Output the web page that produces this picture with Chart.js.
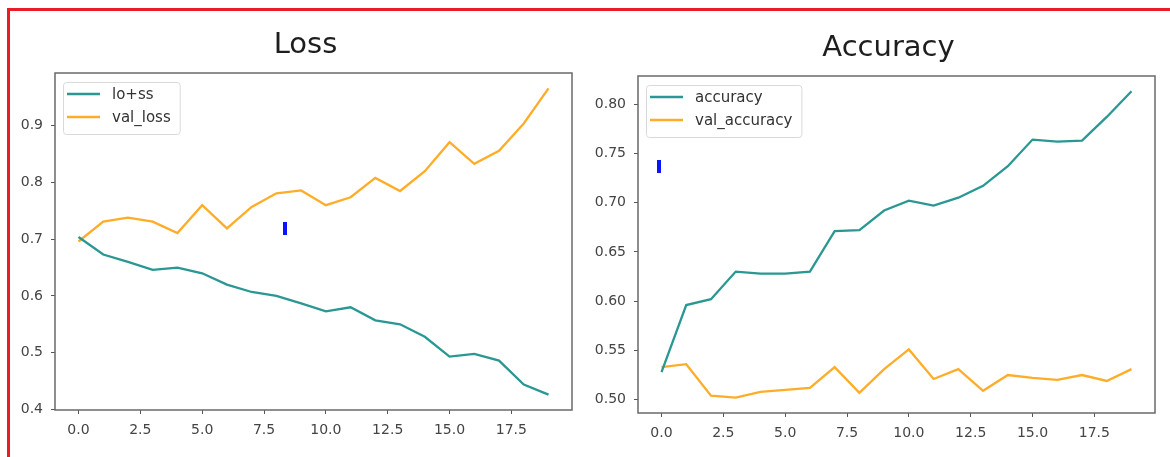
<!DOCTYPE html>
<html>
<head>
<meta charset="utf-8">
<title>Loss / Accuracy</title>
<script src="https://cdn.jsdelivr.net/npm/chart.js@4.4.1/dist/chart.umd.min.js"></script>
<style>
  html, body { margin: 0; padding: 0; background: #fff; }
  body { width: 1170px; height: 457px; position: relative; overflow: hidden; font-family: "DejaVu Sans", sans-serif; }
  .frame { position: absolute; left: 7px; top: 8px; right: 0; bottom: -10px; border-top: 3px solid #ec1c24; border-left: 3px solid #ec1c24; }
  .wrap { position: absolute; top: 0; height: 457px; }
  #lossWrap { left: 0; width: 600px; }
  #accWrap { left: 585px; width: 585px; }
</style>
</head>
<body>
<div class="frame"></div>
<div class="wrap" id="lossWrap"><canvas id="lossChart"></canvas></div>
<div class="wrap" id="accWrap"><canvas id="accChart"></canvas></div>

<script>
// epochs
const epochs = [0, 1, 2, 3, 4, 5, 6, 7, 8, 9, 10, 11, 12, 13, 14, 15, 16, 17, 18, 19];

// loss history
const lossTrain = [0.704, 0.673, 0.660, 0.646, 0.650, 0.640, 0.620, 0.607, 0.600, 0.587,
                   0.573, 0.580, 0.557, 0.550, 0.528, 0.493, 0.498, 0.486, 0.444, 0.426];
const lossVal   = [0.696, 0.731, 0.738, 0.731, 0.711, 0.760, 0.719, 0.757, 0.781, 0.786,
                   0.760, 0.774, 0.808, 0.785, 0.820, 0.871, 0.833, 0.856, 0.904, 0.966];

// accuracy history
const accTrain  = [0.528, 0.596, 0.602, 0.630, 0.628, 0.628, 0.630, 0.671, 0.672, 0.692,
                   0.702, 0.697, 0.705, 0.717, 0.737, 0.764, 0.762, 0.763, 0.787, 0.813];
const accVal    = [0.533, 0.536, 0.504, 0.502, 0.508, 0.510, 0.512, 0.533, 0.507, 0.531,
                   0.551, 0.521, 0.531, 0.509, 0.525, 0.522, 0.520, 0.525, 0.519, 0.531];

// tick labels
const xTicks    = [0, 2.5, 5, 7.5, 10, 12.5, 15, 17.5];
const lossTicks = [0.4, 0.5, 0.6, 0.7, 0.8, 0.9];
const accTicks  = [0.50, 0.55, 0.60, 0.65, 0.70, 0.75, 0.80];

const TEAL = '#2a9793';
const ORANGE = '#ffad28';
const FONT = '"DejaVu Sans", "Liberation Sans", sans-serif';

// matplotlib style autoscale: 5% margin on each side
function padRange(values) {
    const lo = Math.min(...values), hi = Math.max(...values);
    const m = (hi - lo) * 0.05;
    return { min: lo - m, max: hi + m };
}

function toPoints(values) {
    return values.map((v, i) => ({ x: epochs[i], y: v }));
}

// spines, title, in-axes legend and the little cursor mark
const framePlugin = {
    id: 'frame',
    afterDraw(chart, args, opts) {
        const ctx = chart.ctx;
        const a = chart.chartArea;
        ctx.save();

        ctx.strokeStyle = '#6a6a6a';
        ctx.lineWidth = 1.5;
        ctx.strokeRect(a.left, a.top, a.right - a.left, a.bottom - a.top);

        ctx.fillStyle = '#1e1e1e';
        ctx.font = '29px ' + FONT;
        ctx.textAlign = 'center';
        ctx.textBaseline = 'alphabetic';
        ctx.fillText(opts.title, (a.left + a.right) / 2 - 8, a.top - 20);

        // legend box
        ctx.font = '15px ' + FONT;
        const sets = chart.data.datasets;
        const textW = Math.max(...sets.map(d => ctx.measureText(d.label).width));
        const bx = a.left + 8, by = a.top + 9;
        const bw = 49 + textW + 9, bh = 52;
        ctx.beginPath();
        ctx.roundRect(bx + 0.5, by + 0.5, bw, bh, 3);
        ctx.fillStyle = 'rgba(255,255,255,0.8)';
        ctx.fill();
        ctx.strokeStyle = '#d9d9d9';
        ctx.lineWidth = 1;
        ctx.stroke();
        ctx.textAlign = 'left';
        ctx.textBaseline = 'middle';
        sets.forEach((d, i) => {
            const ly = by + 12 + i * 23;
            ctx.strokeStyle = d.borderColor;
            ctx.lineWidth = 2.3;
            ctx.beginPath();
            ctx.moveTo(bx + 4, ly);
            ctx.lineTo(bx + 37, ly);
            ctx.stroke();
            ctx.fillStyle = '#333';
            ctx.fillText(d.label, bx + 49, ly + 1);
        });

        if (opts.cursor) {
            const cx = chart.scales.x.getPixelForValue(opts.cursor.x);
            const cy = chart.scales.y.getPixelForValue(opts.cursor.y);
            ctx.fillStyle = '#0a14ff';
            ctx.fillRect(Math.round(cx) - 2, Math.round(cy) - 6, 4, 13);
        }
        ctx.restore();
    }
};

function makeChart(id, cfg) {
    const yRange = padRange(cfg.series.flat());
    const axisBase = {
        grid: { drawOnChartArea: false, drawTicks: true, tickLength: 4, color: '#555', lineWidth: 1 },
        border: { display: false },
        ticks: { color: '#444', font: { family: FONT, size: 14 }, padding: 8 }
    };
    return new Chart(document.getElementById(id), {
        type: 'line',
        data: {
            datasets: cfg.labels.map((label, i) => ({
                label: label,
                data: toPoints(cfg.series[i]),
                borderColor: cfg.colors[i],
                borderWidth: 2.3,
                pointRadius: 0,
                tension: 0,
                fill: false
            }))
        },
        options: {
            responsive: true,
            maintainAspectRatio: false,
            animation: false,
            layout: { padding: { left: 0, top: cfg.top, right: cfg.right, bottom: 0 } },
            plugins: {
                legend: { display: false },
                title: { display: false },
                tooltip: { enabled: false },
                frame: { title: cfg.title, cursor: cfg.cursor }
            },
            scales: {
                x: {
                    ...axisBase,
                    type: 'linear',
                    min: -0.95,
                    max: 19.95,
                    afterBuildTicks: s => { s.ticks = xTicks.map(v => ({ value: v })); },
                    afterFit: s => { s.height = cfg.xHeight; },
                    ticks: { ...axisBase.ticks, autoSkip: false, maxRotation: 0,
                             callback: v => Number(v).toFixed(1) }
                },
                y: {
                    ...axisBase,
                    type: 'linear',
                    min: yRange.min,
                    max: yRange.max,
                    afterBuildTicks: s => { s.ticks = cfg.yTicks.map(v => ({ value: v })); },
                    afterFit: s => { s.width = cfg.yWidth; },
                    ticks: { ...axisBase.ticks, callback: v => Number(v).toFixed(cfg.decimals) }
                }
            }
        },
        plugins: [framePlugin]
    });
}

makeChart('lossChart', {
    title: 'Loss',
    labels: ['lo+ss', 'val_loss'],
    series: [lossTrain, lossVal],
    colors: [TEAL, ORANGE],
    yTicks: lossTicks,
    decimals: 1,
    top: 73, right: 28, xHeight: 47, yWidth: 55,
    cursor: { x: 8.35, y: 0.72 }
});

makeChart('accChart', {
    title: 'Accuracy',
    labels: ['accuracy', 'val_accuracy'],
    series: [accTrain, accVal],
    colors: [TEAL, ORANGE],
    yTicks: accTicks,
    decimals: 2,
    top: 76, right: 15, xHeight: 44, yWidth: 53,
    cursor: { x: -0.11, y: 0.737 }
});
</script>
</body>
</html>
